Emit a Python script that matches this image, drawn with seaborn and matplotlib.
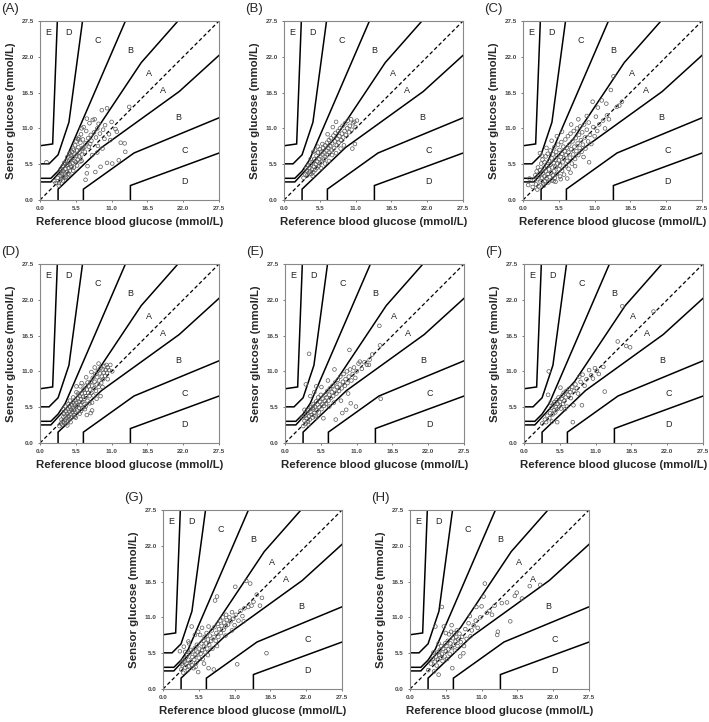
import numpy as np
import matplotlib
matplotlib.use("Agg")
import matplotlib.pyplot as plt
import seaborn as sns

# Parkes (type 1) error grid boundaries, mg/dL -> converted to mmol/L below
AB_UP = [(0, 50), (30, 50), (140, 170), (280, 380), (430, 550)]
AB_LO = [(50, 0), (50, 30), (170, 145), (385, 300), (550, 450)]
BC_UP = [(0, 60), (30, 60), (50, 80), (70, 110), (260, 550)]
BC_LO = [(120, 0), (120, 30), (260, 130), (550, 250)]
CD_UP = [(0, 100), (25, 100), (50, 125), (80, 215), (125, 550)]
CD_LO = [(250, 0), (250, 40), (550, 150)]
DE_UP = [(0, 150), (35, 155), (50, 550)]
BOUNDS = [AB_UP, AB_LO, BC_UP, BC_LO, CD_UP, CD_LO, DE_UP]

ZONE_TEXT = ["E", "D", "C", "B", "A", "A", "B", "C", "D"]
ZONE_X = [1.3, 4.4, 8.8, 13.9, 16.7, 18.9, 21.2, 22.2, 22.2]
ZONE_Y = [25.7, 25.7, 24.5, 22.9, 19.5, 16.8, 12.7, 7.6, 2.8]

TICKS = [0.0, 5.5, 11.0, 16.5, 22.0, 27.5]
PANELS = ["(A)", "(B)", "(C)", "(D)", "(E)", "(F)", "(G)", "(H)"]

# (reference, sensor) pairs, mmol/L
A = [(2.4,2.6),(2.7,3.4),(2.9,2.6),(3.0,4.2),(3.1,3.0),(3.2,3.7),(3.3,4.6),(3.3,3.3),(3.4,4.0),(3.5,5.2),
     (3.6,3.5),(3.6,4.4),(3.7,5.7),(3.8,4.1),(3.9,3.4),(3.9,4.8),(4.0,6.0),(4.1,4.3),(4.1,5.3),(4.2,6.6),
     (4.3,4.0),(4.4,4.9),(4.4,5.9),(4.5,7.1),(4.6,4.5),(4.6,5.5),(4.7,6.3),(4.8,5.1),(4.9,7.4),(5.0,5.7),
     (5.0,6.5),(5.1,7.9),(5.2,5.0),(5.3,6.0),(5.3,7.0),(5.4,8.4),(5.5,5.8),(5.6,6.8),(5.6,9.0),(5.7,7.6),
     (5.8,6.2),(5.9,8.1),(6.0,9.6),(6.0,6.7),(6.1,7.3),(6.2,8.8),(6.3,10.1),(6.4,7.0),(6.5,7.9),(6.6,9.3),
     (6.7,11.2),(6.8,8.1),(6.9,7.4),(7.0,8.7),(7.1,10.6),(7.2,12.5),(7.4,9.5),(7.5,8.2),(7.6,11.8),(7.8,10.0),
     (7.9,9.1),(8.1,12.3),(8.3,10.4),(8.4,12.4),(8.6,9.6),(8.8,11.0),(9.0,11.7),(9.2,10.2),(9.5,13.8),(9.7,10.8),
     (10.0,11.5),(10.3,14.1),(10.6,10.1),(11.0,12.0),(11.8,10.5),(13.7,14.3),(13.0,8.7),(13.1,7.4),(12.1,6.1),(11.1,5.6),
     (10.3,5.7),(9.3,5.1),(8.5,4.3),(7.2,4.1),(7.0,3.1),(7.3,5.2),(1.0,5.8),(4.8,6.9),(5.2,7.7),(6.2,5.9),
     (5.9,9.3),(4.3,5.4),(3.8,5.6),(6.6,8.0),(7.7,8.6),(8.0,6.9),(8.9,8.3),(9.9,9.4),(2.2,2.9),(2.9,2.2),
     (3.5,3.0),(4.0,3.6),(4.5,3.9),(5.1,4.5),(5.7,5.3),(6.4,6.0),(3.2,4.8),(4.6,7.2),(5.8,9.4),(6.4,11.0),
     (8.8,7.3),(9.6,7.9),(10.8,9.2),(12.4,8.8),(11.6,10.9)]

B = [(3.0,3.4),(3.3,3.9),(3.5,4.5),(3.6,3.8),(3.8,4.2),(3.9,4.9),(4.0,4.4),(4.1,5.4),(4.2,4.0),(4.3,4.7),
     (4.4,5.8),(4.5,4.3),(4.5,7.4),(4.6,5.1),(4.7,6.3),(4.8,4.6),(4.9,5.5),(5.0,6.8),(5.0,4.9),(5.1,5.9),
     (5.2,7.3),(5.3,5.2),(5.4,6.3),(5.5,7.8),(5.5,5.6),(5.6,6.7),(5.7,7.4),(5.8,5.9),(5.9,7.0),(6.0,8.0),
     (6.1,6.2),(6.2,7.3),(6.3,8.4),(6.4,6.6),(6.5,7.6),(6.6,8.8),(6.7,6.9),(6.8,8.0),(6.9,9.2),(7.0,7.3),
     (7.1,8.3),(7.2,9.5),(7.3,7.6),(7.4,8.7),(7.5,11.2),(7.6,9.9),(7.7,8.0),(7.8,9.0),(7.9,10.3),(8.0,12.0),
     (8.1,8.4),(8.2,9.4),(8.3,10.6),(8.4,8.8),(8.5,9.8),(8.6,11.0),(8.8,9.2),(8.9,10.2),(9.0,11.4),(9.1,9.6),
     (9.3,10.6),(9.4,11.8),(9.5,10.0),(9.7,11.0),(9.8,12.2),(10.0,10.4),(10.1,11.4),(10.3,12.4),(10.4,10.8),(10.6,11.8),
     (10.8,12.0),(11.0,11.2),(11.2,12.2),(10.5,7.9),(10.9,8.6),(4.1,6.3),(5.2,8.2),(6.7,10.1),(3.7,5.3),(4.4,3.7),
     (5.7,4.9),(6.9,6.0),(8.0,7.2),(9.2,8.4),(3.4,4.9),(5.9,8.6),(4.8,7.6),(6.3,5.6),(7.4,6.9),(8.7,7.9)]

C = [(0.8,2.3),(1.0,3.3),(1.5,2.0),(1.7,3.0),(1.9,3.8),(2.0,2.4),(2.1,4.4),(2.2,3.2),(2.3,5.0),(2.4,2.1),
     (2.5,3.7),(2.6,7.2),(2.6,4.6),(2.7,2.8),(2.8,5.6),(2.9,3.4),(3.0,4.1),(3.0,6.2),(3.1,2.5),(3.2,4.9),
     (3.3,3.6),(3.3,5.8),(3.4,2.9),(3.5,4.4),(3.5,6.7),(3.6,3.3),(3.7,5.2),(3.8,4.0),(3.8,7.1),(3.9,2.7),
     (4.0,4.7),(4.0,6.0),(4.1,3.5),(4.2,5.4),(4.2,7.6),(4.3,4.2),(4.4,3.0),(4.4,6.4),(4.5,5.0),(4.6,3.8),
     (4.6,7.0),(4.7,5.7),(4.8,4.4),(4.8,8.1),(4.9,3.4),(5.0,6.2),(5.0,5.1),(5.1,7.4),(5.2,4.0),(5.2,6.8),
     (5.3,5.6),(5.4,8.5),(5.5,4.7),(5.5,6.1),(5.6,7.7),(5.7,3.6),(5.7,5.3),(5.8,6.6),(5.9,8.9),(6.0,4.5),
     (6.0,7.1),(6.1,5.8),(6.2,8.2),(6.3,6.4),(6.3,3.9),(6.4,7.5),(6.5,9.3),(6.6,5.2),(6.6,6.9),(6.7,8.0),
     (6.8,6.0),(6.9,9.8),(7.0,7.3),(7.0,4.8),(7.1,8.5),(7.2,6.5),(7.3,10.2),(7.4,7.8),(7.5,5.6),(7.6,9.0),
     (7.7,7.0),(7.8,10.6),(7.9,8.2),(8.0,6.3),(8.1,9.5),(8.2,7.5),(8.3,11.0),(8.4,8.7),(8.5,6.9),(8.6,10.0),
     (8.7,8.0),(8.8,11.3),(8.9,9.2),(9.0,7.4),(9.1,10.4),(9.2,8.5),(9.4,11.6),(9.5,9.6),(9.6,7.9),(9.8,10.8),
     (10.0,9.0),(10.1,11.9),(10.15,5.8),(10.3,10.0),(10.5,8.6),(10.7,15.1),(10.8,11.2),(11.0,9.8),(11.2,12.8),(11.4,10.6),
     (11.7,11.6),(12.1,15.3),(12.3,12.2),(12.6,11.0),(12.9,13.0),(13.2,12.4),(13.5,16.9),(13.9,19.0),(14.4,14.3),(15.2,15.1),
     (8.0,5.2),(7.3,4.2),(9.3,6.6),(5.0,2.8),(6.8,3.3),(2.9,6.8),(3.6,8.0),(4.4,9.1),(5.2,9.8),(6.0,10.5),
     (3.2,2.2),(2.2,1.6),(4.7,2.9),(5.8,3.2),(9.8,12.9),(8.5,12.4),(7.4,11.6),(11.5,14.2),(12.8,14.8),(14.8,14.5)]

D = [(3.0,2.6),(3.2,3.0),(3.3,3.6),(3.4,2.8),(3.5,3.3),(3.6,4.0),(3.7,3.1),(3.7,4.5),(3.8,3.6),(3.9,4.2),
     (4.0,3.0),(4.0,4.9),(4.1,3.8),(4.2,4.5),(4.3,3.4),(4.3,5.2),(4.4,4.1),(4.5,4.8),(4.5,3.7),(4.6,5.5),
     (4.7,4.4),(4.8,5.1),(4.8,3.9),(4.9,5.8),(5.0,4.7),(5.0,5.4),(5.1,6.2),(5.2,4.3),(5.2,5.1),(5.3,5.9),
     (5.4,6.6),(5.4,4.8),(5.5,5.5),(5.6,6.2),(5.6,8.7),(5.7,5.0),(5.8,5.8),(5.8,6.9),(5.9,7.6),(6.0,5.4),
     (6.0,6.3),(6.1,7.2),(6.2,8.7),(6.2,5.8),(6.3,6.7),(6.4,7.6),(6.5,5.3),(6.5,6.3),(6.6,7.1),(6.7,8.2),
     (6.8,6.0),(6.8,6.8),(6.9,7.7),(7.0,8.8),(7.0,5.6),(7.1,7.2),(7.2,8.2),(7.3,9.3),(7.3,6.5),(7.4,7.7),
     (7.5,8.7),(7.6,6.1),(7.6,7.2),(7.7,8.2),(7.8,9.4),(7.8,4.6),(7.9,7.7),(8.0,8.8),(8.1,10.0),(8.2,7.3),
     (8.3,8.4),(8.4,9.4),(8.5,10.6),(8.6,8.0),(8.7,9.0),(8.8,10.1),(8.9,11.1),(9.0,8.6),(9.1,9.6),(9.2,10.7),
     (9.3,7.2),(9.3,11.5),(9.4,9.2),(9.5,10.2),(9.6,11.3),(9.7,9.8),(9.8,10.8),(9.9,11.8),(10.0,10.3),(10.1,11.2),
     (10.2,12.0),(10.3,10.8),(10.4,11.6),(10.6,11.2),(10.8,12.0),(11.1,11.0),(4.2,2.7),(4.7,3.2),(5.5,3.9),(6.1,4.5),
     (6.9,5.2),(7.2,4.3),(8.0,6.2),(8.7,6.8),(3.6,5.2),(4.4,6.0),(5.1,7.0),(5.6,7.8),(6.4,9.2),(7.1,10.1),
     (7.9,10.9),(8.4,11.6),(9.0,12.2),(5.3,4.0),(6.3,4.9),(4.6,6.5),(3.9,5.6),(8.0,5.0),(9.6,8.6),(10.4,9.8)]

E = [(2.8,2.6),(3.0,3.4),(3.1,4.2),(3.2,3.0),(3.3,3.8),(3.4,4.6),(3.5,3.3),(3.6,5.0),(3.7,4.1),(3.8,3.6),
     (3.9,4.8),(4.0,5.5),(4.1,4.3),(4.2,3.9),(4.3,5.2),(4.4,6.0),(4.5,4.6),(4.6,5.6),(4.7,4.2),(4.8,6.4),
     (4.9,5.0),(5.0,5.9),(5.1,7.0),(5.2,4.7),(5.3,5.5),(5.4,6.3),(5.5,7.4),(5.6,5.2),(5.7,6.0),(5.8,6.8),
     (5.9,3.8),(6.0,5.7),(6.1,6.5),(6.2,7.4),(6.3,6.0),(6.4,7.0),(6.5,8.0),(6.7,6.5),(6.8,7.4),(6.9,8.4),
     (7.0,6.9),(7.2,7.8),(7.3,8.8),(7.4,7.2),(7.6,8.2),(7.6,11.3),(7.7,9.3),(7.8,3.6),(7.9,7.6),(8.0,8.6),
     (8.1,9.7),(8.3,8.0),(8.4,9.0),(8.5,10.2),(8.6,6.5),(8.7,8.4),(8.8,4.6),(8.9,9.4),(9.0,10.6),(9.2,8.8),
     (9.3,9.8),(9.4,5.1),(9.5,11.0),(9.6,9.2),(9.8,10.2),(9.9,14.3),(10.0,11.3),(10.1,6.1),(10.2,9.6),(10.4,10.6),
     (10.6,11.6),(10.9,5.6),(10.8,10.0),(11.0,11.0),(11.3,12.2),(11.5,12.5),(11.8,11.4),(12.2,12.4),(12.6,12.0),(12.9,12.0),
     (13.4,13.6),(13.0,12.8),(14.5,18.0),(14.6,15.0),(14.7,6.8),(3.7,13.7),(3.2,9.0),(4.8,8.7),(4.3,5.4),(3.0,5.1),
     (3.9,7.2),(4.5,7.8),(5.6,8.6),(6.6,9.6),(2.6,4.0),(3.6,2.8),(4.8,3.9),(6.8,5.6),(7.5,6.2),(9.7,7.6)]

F = [(2.8,3.0),(3.2,3.6),(3.4,3.2),(3.6,4.2),(3.7,7.4),(3.8,11.0),(3.9,3.8),(4.0,4.6),(4.2,5.4),(4.3,3.3),
     (4.4,4.4),(4.5,5.9),(4.6,5.0),(4.7,6.3),(4.8,4.7),(4.9,5.5),(5.0,6.6),(5.1,3.2),(5.1,5.2),(5.2,6.0),
     (5.3,7.0),(5.4,5.6),(5.5,6.3),(5.6,8.5),(5.7,5.3),(5.8,6.8),(5.9,7.3),(6.0,6.0),(6.1,7.7),(6.2,6.5),
     (6.4,7.0),(6.5,8.0),(6.6,5.6),(6.8,7.4),(6.9,8.3),(7.1,7.8),(7.2,6.9),(7.5,3.2),(7.4,8.6),(7.6,5.8),
     (7.7,8.0),(7.9,9.0),(8.1,8.4),(8.3,7.6),(8.5,10.2),(8.7,9.4),(8.9,5.8),(9.0,10.5),(9.3,8.8),(9.6,9.8),
     (10.0,11.2),(10.3,10.4),(10.6,9.9),(10.9,11.5),(11.2,11.1),(11.5,10.6),(12.2,11.7),(12.4,7.9),(14.4,15.6),(15.1,21.0),
     (15.7,14.9),(16.3,14.7),(19.9,20.2),(6.3,5.2),(4.1,6.2)]

G = [(2.6,5.8),(2.8,3.0),(3.0,3.6),(3.1,2.5),(3.2,6.5),(3.3,4.2),(3.4,3.3),(3.5,4.8),(3.6,3.9),(3.7,5.2),
     (3.8,2.9),(3.9,7.3),(3.9,4.5),(4.0,3.5),(4.1,5.5),(4.2,4.1),(4.3,6.0),(4.4,9.6),(4.4,3.7),(4.5,4.9),
     (4.6,5.8),(4.7,3.2),(4.8,4.5),(4.9,6.3),(5.0,5.3),(5.1,4.0),(5.2,6.8),(5.3,5.6),(5.4,2.6),(5.5,4.8),
     (5.6,6.2),(5.7,8.3),(5.8,5.4),(5.9,7.0),(6.0,6.0),(6.1,4.6),(6.2,7.4),(6.3,6.5),(6.4,8.0),(6.5,5.6),
     (6.6,7.0),(6.7,8.6),(6.8,6.2),(6.9,7.6),(7.0,9.6),(7.0,3.2),(7.1,6.8),(7.2,8.2),(7.4,7.4),(7.5,9.0),
     (7.6,6.2),(7.8,3.0),(7.8,8.0),(7.9,9.5),(8.0,13.6),(8.1,7.4),(8.2,8.6),(8.3,14.2),(8.4,10.0),(8.5,8.0),
     (8.6,9.2),(8.8,10.5),(8.9,8.6),(9.0,9.7),(9.2,11.0),(9.3,9.1),(9.4,10.2),(9.6,9.6),(9.7,11.4),(9.8,10.6),
     (10.0,9.9),(10.2,11.0),(10.4,10.4),(10.6,11.8),(10.8,10.8),(11.0,9.8),(11.1,15.7),(11.2,11.4),(11.4,3.8),(11.6,10.5),
     (11.9,12.0),(12.2,11.2),(12.5,12.4),(12.8,16.6),(13.1,12.6),(13.4,16.2),(13.6,12.8),(13.9,13.4),(14.4,14.5),(14.9,12.8),
     (15.2,14.0),(15.9,5.5),(3.4,5.7),(4.0,7.0),(4.9,8.3),(5.4,8.8),(6.0,9.4),(3.0,4.4),(2.9,3.9),(5.0,3.4),
     (6.3,3.9),(6.9,5.2),(8.3,6.6),(9.6,8.2),(10.6,9.0),(12.4,10.4)]

H = [(2.8,2.9),(3.2,3.9),(3.5,4.6),(3.7,2.7),(3.8,4.2),(4.0,5.0),(4.1,3.6),(4.2,5.6),(4.3,4.5),(4.4,2.2),
     (4.5,5.2),(4.6,6.0),(4.7,4.8),(4.8,6.6),(4.9,5.4),(5.0,4.3),(5.1,6.2),(5.2,9.6),(5.3,5.0),(5.4,7.0),
     (5.5,5.8),(5.6,6.6),(5.7,4.6),(5.8,7.4),(5.9,6.1),(6.0,8.4),(6.1,5.4),(6.2,7.0),(6.3,8.8),(6.4,6.4),
     (6.5,3.2),(6.6,7.8),(6.7,6.8),(6.8,8.6),(6.9,5.9),(7.0,7.3),(7.1,8.0),(7.2,9.0),(7.3,6.6),(7.4,7.6),
     (7.6,8.5),(7.7,5.0),(7.8,7.2),(8.0,8.0),(8.2,5.5),(8.3,6.6),(8.5,9.2),(8.7,7.7),(9.0,10.1),(9.3,8.1),
     (9.5,9.0),(9.8,9.8),(10.1,10.5),(10.4,9.4),(10.8,11.0),(11.0,12.7),(11.3,14.2),(11.5,16.2),(11.8,11.7),(12.2,12.0),
     (12.6,11.4),(13.0,12.8),(13.4,8.3),(13.5,8.8),(14.1,13.2),(14.9,13.3),(15.4,10.4),(16.1,14.3),(16.4,14.8),(17.2,13.9),
     (18.4,15.8),(20.0,16.0),(3.9,9.6),(4.9,12.6),(3.6,5.6),(4.4,7.0),(5.5,8.6),(6.4,9.8),(9.2,11.2),(10.2,12.6)]

DATA = [A, B, C, D, E, F, G, H]

sns.set_style("white")
plt.rcParams["font.family"] = ["Liberation Sans", "DejaVu Sans"]

fig = plt.figure(figsize=(7.09, 7.22), dpi=100)
W, Hpx = 709, 722
# axes boxes in pixels: left, top
BOXES = [(40, 21), (284, 21), (523, 21),
         (40, 264), (285, 264), (524, 264),
         (163, 510), (410, 510)]
SIZE = 179

for k, (pts, (left, top)) in enumerate(zip(DATA, BOXES)):
    ax = fig.add_axes([left / W, 1 - (top + SIZE) / Hpx, SIZE / W, SIZE / Hpx])
    for b in BOUNDS:
        arr = np.array(b, dtype=float) / 18.0
        ax.plot(arr[:, 0], arr[:, 1], color="black", lw=1.1, solid_joinstyle="miter")
    ax.plot([0, 27.5], [0, 27.5], color="black", lw=0.9, ls=(0, (3, 2)))
    arr = np.array(pts)
    sns.scatterplot(x=arr[:, 0], y=arr[:, 1], ax=ax, marker="o", s=7,
                    facecolors="none", edgecolors="#5a5a5a", linewidth=0.5, zorder=3)
    for t, zx, zy in zip(ZONE_TEXT, ZONE_X, ZONE_Y):
        ax.text(zx, zy, t, ha="center", va="center", fontsize=6.5, color="#222222")
    ax.set_xlim(0, 27.5)
    ax.set_ylim(0, 27.5)
    ax.set_xticks(TICKS)
    ax.set_yticks(TICKS)
    ax.set_xticklabels([f"{t:.1f}" for t in TICKS], fontsize=4.5, fontweight="bold", color="#444444")
    ax.set_yticklabels([f"{t:.1f}" for t in TICKS], fontsize=4.5, fontweight="bold", color="#444444")
    ax.tick_params(length=1.5, width=0.5, pad=3, colors="#444444", bottom=True, left=True)
    for sp in ax.spines.values():
        sp.set_color("#888888")
        sp.set_linewidth(0.8)
    ax.set_xlabel("Reference blood glucose (mmol/L)", fontsize=8.2, fontweight="bold", labelpad=4)
    ax.set_ylabel("Sensor glucose (mmol/L)", fontsize=8.2, fontweight="bold", labelpad=4)
    fig.text((left - 39) / W, 1 - (top - 12) / Hpx, PANELS[k], fontsize=9.5,
             ha="left", va="center")

fig.savefig("out.png", dpi=100)
